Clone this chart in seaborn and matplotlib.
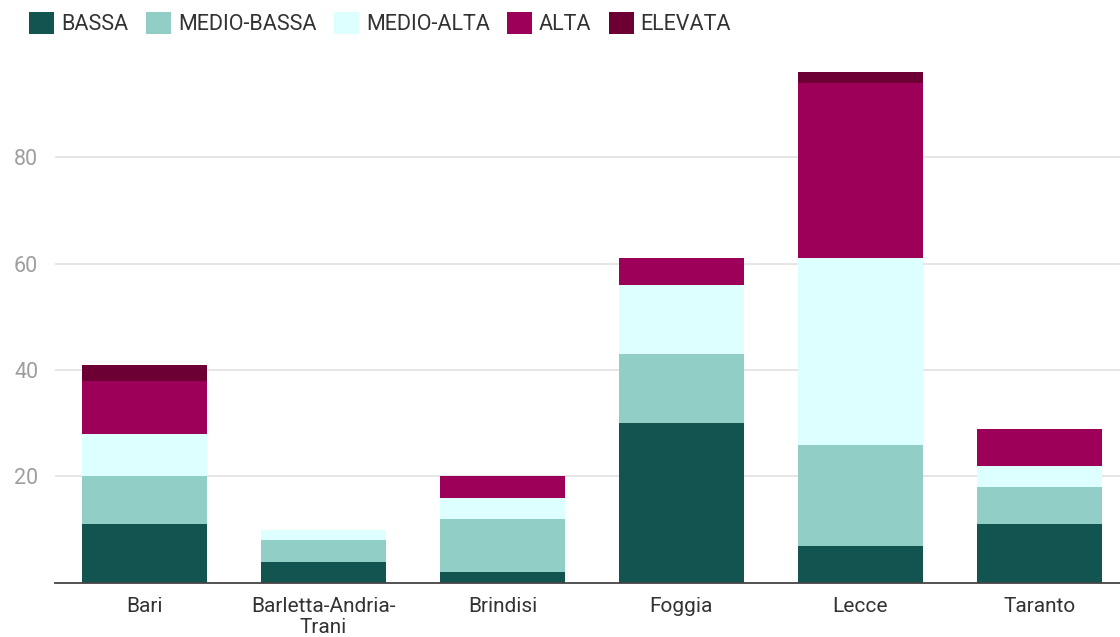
import numpy as np
import pandas as pd
import matplotlib
matplotlib.use("Agg")
import matplotlib.pyplot as plt
import seaborn as sns
from matplotlib.patches import Patch

# -----------------------------
# data
# -----------------------------
provinces = ["Bari", "Barletta-Andria-\nTrani", "Brindisi", "Foggia", "Lecce", "Taranto"]
levels = ["BASSA", "MEDIO-BASSA", "MEDIO-ALTA", "ALTA", "ELEVATA"]
bassa = [11, 4, 2, 30, 7, 11]
medio_bassa = [9, 4, 10, 13, 19, 7]
medio_alta = [8, 2, 4, 13, 35, 4]
alta = [10, 0, 4, 5, 33, 7]
elevata = [3, 0, 0, 0, 2, 0]
colors = ["#12544F", "#91CEC6", "#DEFFFF", "#9C0058", "#6C0035"]

df = pd.DataFrame({"prov": provinces, "BASSA": bassa, "MEDIO-BASSA": medio_bassa,
                   "MEDIO-ALTA": medio_alta, "ALTA": alta, "ELEVATA": elevata})

sns.set_theme(style="white")
plt.rcParams["font.family"] = ["Roboto", "DejaVu Sans"]

fig = plt.figure(figsize=(11.2, 6.37), dpi=100)
ax = fig.add_axes([0.049, 0.085, 0.951, 0.827])

# stacked bars: draw cumulative sums, tallest first
cum = df[levels].cumsum(axis=1)
for lev, col in reversed(list(zip(levels, colors))):
    sns.barplot(x=df["prov"], y=cum[lev], color=col, width=0.7, ax=ax,
                saturation=1, edgecolor="none", linewidth=0)

ax.set_xlim(-0.5, 5.45)
ax.set_ylim(0, 99)
ax.set_yticks([20, 40, 60, 80])
ax.yaxis.grid(True, color="#e6e6e6", linewidth=1.4)
ax.set_axisbelow(True)
for s in ["top", "right", "left"]:
    ax.spines[s].set_visible(False)
ax.spines["bottom"].set_color("#444444")
ax.spines["bottom"].set_linewidth(1.3)
ax.set_xlabel("")
ax.set_ylabel("")
ax.tick_params(axis="y", colors="#9e9e9e", labelsize=15.5, length=0, pad=12)
ax.tick_params(axis="x", colors="#333333", labelsize=15, length=0, pad=10)
for lbl in ax.get_xticklabels():
    lbl.set_linespacing(1.15)

handles = [Patch(facecolor=c, edgecolor="none", label=l) for l, c in zip(levels, colors)]
fig.legend(handles=handles, loc="upper left", bbox_to_anchor=(0.009, 1.011), ncol=5,
           frameon=False, fontsize=15.5, handlelength=1.16, handleheight=1.16,
           handletextpad=0.33, columnspacing=0.8, labelcolor="#333333")

fig.savefig("out.png", dpi=100)
